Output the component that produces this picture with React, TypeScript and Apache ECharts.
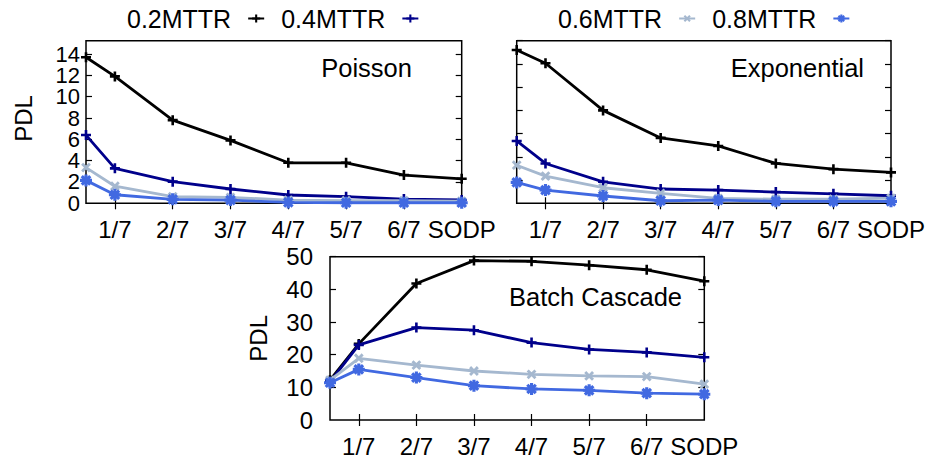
import React, { useEffect, useRef } from "react";
import * as echarts from "echarts";

// x positions of the measured points (first point unlabeled), and tick labels
const fracs = [0.5, 1, 2, 3, 4, 5, 6, 7];
const tickPos = [1, 2, 3, 4, 5, 6, 7];
const tickLabels = ["1/7", "2/7", "3/7", "4/7", "5/7", "6/7", "SODP"];
const seriesNames = ["0.2MTTR", "0.4MTTR", "0.6MTTR", "0.8MTTR"];

// Poisson
const poisson02 = [13.7, 11.9, 7.8, 5.9, 3.8, 3.8, 2.65, 2.3];
const poisson04 = [6.4, 3.28, 2.03, 1.34, 0.78, 0.62, 0.4, 0.31];
const poisson06 = [3.35, 1.6, 0.62, 0.56, 0.3, 0.25, 0.25, 0.2];
const poisson08 = [2.15, 0.8, 0.37, 0.3, 0.08, 0.05, 0.05, 0.05];

// Exponential
const expo02 = [13.2, 12.06, 8.0, 5.63, 4.94, 3.43, 2.94, 2.66];
const expo04 = [5.37, 3.43, 1.85, 1.23, 1.14, 0.97, 0.82, 0.65];
const expo06 = [3.28, 2.34, 1.34, 0.86, 0.43, 0.35, 0.35, 0.45];
const expo08 = [1.8, 1.14, 0.63, 0.22, 0.28, 0.17, 0.17, 0.17];

// Batch Cascade
const batch02 = [12.2, 23.3, 41.8, 48.8, 48.6, 47.4, 46.0, 42.5];
const batch04 = [11.7, 23.0, 28.3, 27.5, 23.7, 21.6, 20.7, 19.2];
const batch06 = [12.2, 18.9, 16.8, 15.0, 14.0, 13.5, 13.3, 11.0];
const batch08 = [11.4, 15.5, 13.0, 10.5, 9.5, 9.1, 8.2, 7.9];

const topYTicks = [0, 2, 4, 6, 8, 10, 12, 14];
const bottomYTicks = [0, 10, 20, 30, 40, 50];

const FONT = "'Liberation Sans', Arial, sans-serif";
const COLORS = ["#000000", "#00008b", "#a5b8cf", "#4169e1"];

const PLUS = "path://M3.7,0H6.3V3.7H10V6.3H6.3V10H3.7V6.3H0V3.7H3.7Z";
const STAR =
  "path://M3.7,0H6.3V3.7H10V6.3H6.3V10H3.7V6.3H0V3.7H3.7Z" +
  "M7.616,0.545L9.455,2.384L6.838,5L9.455,7.616L7.616,9.455L5,6.838L2.384,9.455L0.545,7.616L3.162,5L0.545,2.384L2.384,0.545L5,3.162Z";
const SYMBOLS = [PLUS, PLUS, PLUS, STAR];
const SYM_ROT = [0, 0, 45, 0];
const SYM_SIZE = [10, 10, 11, 12];

export default function App() {
  const ref = useRef<HTMLDivElement>(null);

  useEffect(() => {
    document.body.style.margin = "0";
    if (!ref.current) return;
    const chart = echarts.init(ref.current, undefined, { renderer: "svg" });

    const grids = [
      { left: 86, top: 40.7, width: 375.7, height: 162.6 },
      { left: 516.7, top: 40.7, width: 374.3, height: 162.6 },
      { left: 330, top: 256.7, width: 374.3, height: 163.3 },
    ].map((g) => ({ ...g, show: true, borderColor: "#000", borderWidth: 1.5, containLabel: false }));

    const tick = (vals: number[]) => ({
      show: vals.length > 0,
      inside: true,
      length: 6,
      lineStyle: { color: "#000", width: 1.2 },
      customValues: vals,
    });

    const xAxis: any[] = [];
    const yAxis: any[] = [];
    const ySeriesIdx: number[] = [];
    const yMax = [15.25, 14, 50];
    const yTickVals = [topYTicks, topYTicks, bottomYTicks];

    const makeLeftY = (gi: number, labels: number[], ticks: number[], withName: boolean) => ({
      type: "value",
      gridIndex: gi,
      position: "left",
      min: 0,
      max: yMax[gi],
      name: withName ? "PDL" : "",
      nameLocation: "middle",
      nameGap: gi === 0 ? 51 : 60,
      nameTextStyle: {
        fontSize: 24,
        color: "#000",
        fontFamily: FONT,
        padding: gi === 0 ? [0, 0, 0, 7] : 0,
      },
      axisLine: { show: false },
      splitLine: { show: false },
      axisTick: tick(ticks),
      axisLabel: {
        show: labels.length > 0,
        customValues: labels,
        showMinLabel: true,
        showMaxLabel: true,
        formatter: (v: number) => (labels.indexOf(v) >= 0 ? String(v) : ""),
        fontSize: gi === 0 ? 22 : 24,
        lineHeight: gi === 0 ? 20 : 24,
        color: "#000",
        fontFamily: FONT,
        margin: gi === 0 ? 6 : 17,
      },
    });

    [0, 1, 2].forEach((gi) => {
      xAxis.push({
        type: "value",
        gridIndex: gi,
        position: "bottom",
        min: 0.5,
        max: 7,
        axisLine: { show: false },
        splitLine: { show: false },
        axisTick: tick(tickPos.slice(0, 6)),
        axisLabel: {
          customValues: tickPos,
          showMinLabel: true,
          showMaxLabel: true,
          formatter: (v: number) => {
            const i = tickPos.indexOf(Math.round(v));
            return Math.abs(v - Math.round(v)) < 1e-6 && i >= 0 ? tickLabels[i] : "";
          },
          fontSize: 24,
          color: "#000",
          fontFamily: FONT,
          margin: 14,
        },
      });
      xAxis.push({
        type: "value",
        gridIndex: gi,
        position: "top",
        min: 0.5,
        max: 7,
        axisLine: { show: false },
        splitLine: { show: false },
        axisTick: tick(tickPos.slice(0, 6)),
        axisLabel: { show: false },
      });

      const ticks = yTickVals[gi];
      ySeriesIdx.push(yAxis.length);
      if (gi === 0) {
        // labels split over two coincident axes so none are auto-hidden
        yAxis.push(makeLeftY(gi, ticks.filter((_, i) => i % 2 === 0), ticks.slice(1), true));
        yAxis.push(makeLeftY(gi, ticks.filter((_, i) => i % 2 === 1), [], false));
      } else if (gi === 1) {
        yAxis.push(makeLeftY(gi, [], ticks.slice(1), false));
      } else {
        yAxis.push(makeLeftY(gi, ticks, ticks.slice(1), true));
      }
      yAxis.push({
        type: "value",
        gridIndex: gi,
        position: "right",
        min: 0,
        max: yMax[gi],
        axisLine: { show: false },
        splitLine: { show: false },
        axisTick: tick(ticks.slice(1)),
        axisLabel: { show: false },
      });
    });

    const panels = [
      [poisson02, poisson04, poisson06, poisson08],
      [expo02, expo04, expo06, expo08],
      [batch02, batch04, batch06, batch08],
    ];
    const series: any[] = [];
    panels.forEach((vals, gi) => {
      vals.forEach((arr, si) => {
        series.push({
          type: "line",
          name: seriesNames[si],
          xAxisIndex: gi * 2,
          yAxisIndex: ySeriesIdx[gi],
          data: fracs.map((x, i) => [x, arr[i]]),
          symbol: SYMBOLS[si],
          symbolSize: SYM_SIZE[si],
          symbolRotate: SYM_ROT[si],
          showAllSymbol: true,
          lineStyle: { color: COLORS[si], width: 2.8 },
          itemStyle: { color: COLORS[si] },
          emphasis: { disabled: true },
          z: 2 + si,
        });
      });
    });

    const legendCommon = {
      orient: "horizontal",
      align: "right",
      top: 6,
      padding: 0,
      itemWidth: 16,
      itemHeight: 10,
      itemGap: 16,
      selectedMode: false,
      textStyle: { fontSize: 25, color: "#000", fontFamily: FONT, padding: [0, 12, 0, 0] },
    };

    const labelStyle = { align: "right", verticalAlign: "middle", fontSize: 25.5, fill: "#000", fontFamily: FONT };

    chart.setOption({
      animation: false,
      backgroundColor: "#ffffff",
      textStyle: { fontFamily: FONT },
      grid: grids,
      xAxis,
      yAxis,
      series,
      legend: [
        { ...legendCommon, left: 127, data: [seriesNames[0], seriesNames[1]] },
        { ...legendCommon, left: 558, data: [seriesNames[2], seriesNames[3]] },
      ],
      graphic: [
        { type: "text", x: 412, y: 68, style: { ...labelStyle, text: "Poisson" } },
        { type: "text", x: 864, y: 68, style: { ...labelStyle, text: "Exponential" } },
        { type: "text", x: 682, y: 297, style: { ...labelStyle, text: "Batch Cascade" } },
      ],
    });

    return () => chart.dispose();
  }, []);

  return <div ref={ref} style={{ width: 929, height: 461 }} />;
}
